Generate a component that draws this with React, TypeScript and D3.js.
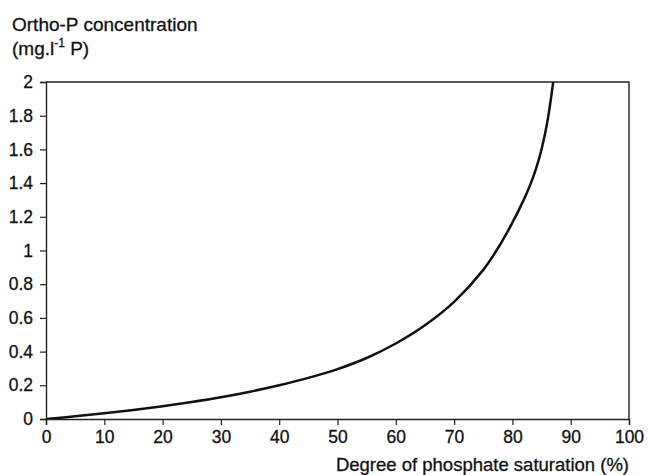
import { useEffect, useRef } from "react";
import * as d3 from "d3";

// values
const saturation = [0, 5, 10, 15, 20, 25, 30, 35, 40, 45, 50, 55, 60, 65, 70, 75, 78, 80, 82, 83, 84, 85, 86, 87];
const orthoP = [0, 0.016, 0.034, 0.054, 0.076, 0.101, 0.129, 0.162, 0.2, 0.244, 0.296, 0.362, 0.448, 0.556, 0.695, 0.885, 1.041, 1.165, 1.305, 1.385, 1.48, 1.6, 1.765, 2.0];

const xTicks = [0, 10, 20, 30, 40, 50, 60, 70, 80, 90, 100];
const yTicks = [0, 0.2, 0.4, 0.6, 0.8, 1, 1.2, 1.4, 1.6, 1.8, 2];

const yTitle1 = "Ortho-P concentration";
const xTitle = "Degree of phosphate saturation (%)";

const WIDTH = 648;
const HEIGHT = 475;
const FONT = "'Liberation Sans', Arial, Helvetica, sans-serif";
const INK = "#111";

function App() {
  const svgRef = useRef<SVGSVGElement | null>(null);

  useEffect(() => {
    const svg = d3.select(svgRef.current);
    svg.selectAll("*").remove();

    const margin = { top: 82, right: 19, bottom: 56, left: 46 };

    const x = d3
      .scaleLinear()
      .domain([0, 100])
      .range([margin.left, WIDTH - margin.right]);

    const y = d3
      .scaleLinear()
      .domain([0, 2])
      .range([HEIGHT - margin.bottom, margin.top]);

    const fmt = (d: number) => String(+d.toFixed(1));

    // clip so the curve stops at the frame
    svg
      .append("clipPath")
      .attr("id", "plot-clip")
      .append("rect")
      .attr("x", margin.left)
      .attr("y", margin.top)
      .attr("width", WIDTH - margin.left - margin.right)
      .attr("height", HEIGHT - margin.top - margin.bottom);

    // frame (top + right)
    svg
      .append("path")
      .attr("d", `M${x(0)},${y(2)}H${x(100)}V${y(0)}`)
      .attr("fill", "none")
      .attr("stroke", "#222")
      .attr("stroke-width", 1.4);

    const xAxis = svg
      .append("g")
      .attr("transform", `translate(0,${y(0)})`)
      .call(
        d3.axisBottom(x).tickValues(xTicks).tickSize(6).tickPadding(6).tickFormat((d) => fmt(+d))
      );

    const yAxis = svg
      .append("g")
      .attr("transform", `translate(${x(0)},0)`)
      .call(
        d3.axisLeft(y).tickValues(yTicks).tickSize(6).tickPadding(7).tickFormat((d) => fmt(+d))
      );

    [xAxis, yAxis].forEach((g) => {
      g.select(".domain").attr("stroke", "#222").attr("stroke-width", 1.4);
      g.selectAll(".tick line").attr("stroke", "#222").attr("stroke-width", 1.2);
      g.selectAll(".tick text")
        .attr("fill", INK)
        .attr("stroke", INK)
        .attr("stroke-width", 0.3)
        .style("font-family", FONT)
        .style("font-size", "17.5px");
    });

    const pts = saturation.map((s, i) => [s, orthoP[i]] as [number, number]);

    const line = d3
      .line<[number, number]>()
      .x((d) => x(d[0]))
      .y((d) => y(d[1]))
      .curve(d3.curveCatmullRom.alpha(0.5));

    svg
      .append("path")
      .datum(pts)
      .attr("clip-path", "url(#plot-clip)")
      .attr("fill", "none")
      .attr("stroke", INK)
      .attr("stroke-width", 2.5)
      .attr("stroke-linecap", "round")
      .attr("d", line);

    // axis titles
    const yt = svg
      .append("g")
      .style("font-family", FONT)
      .style("font-size", "19px")
      .attr("fill", INK)
      .attr("stroke", INK)
      .attr("stroke-width", 0.3);

    yt.append("text").attr("x", 12).attr("y", 31).text(yTitle1);

    const unit = yt.append("text").attr("x", 12).attr("y", 55);
    unit.append("tspan").text("(mg.l");
    unit
      .append("tspan")
      .attr("dy", -8)
      .style("font-size", "12px")
      .text("-1");
    unit.append("tspan").attr("dy", 8).text(" P)");

    svg
      .append("text")
      .attr("x", x(100))
      .attr("y", 471)
      .attr("text-anchor", "end")
      .style("font-family", FONT)
      .style("font-size", "18.5px")
      .attr("fill", INK)
      .attr("stroke", INK)
      .attr("stroke-width", 0.3)
      .text(xTitle);
  }, []);

  return (
    <div>
      <style>{`body{margin:0;background:#fff}`}</style>
      <svg ref={svgRef} width={WIDTH} height={HEIGHT} viewBox={`0 0 ${WIDTH} ${HEIGHT}`} />
    </div>
  );
}

export default App;
